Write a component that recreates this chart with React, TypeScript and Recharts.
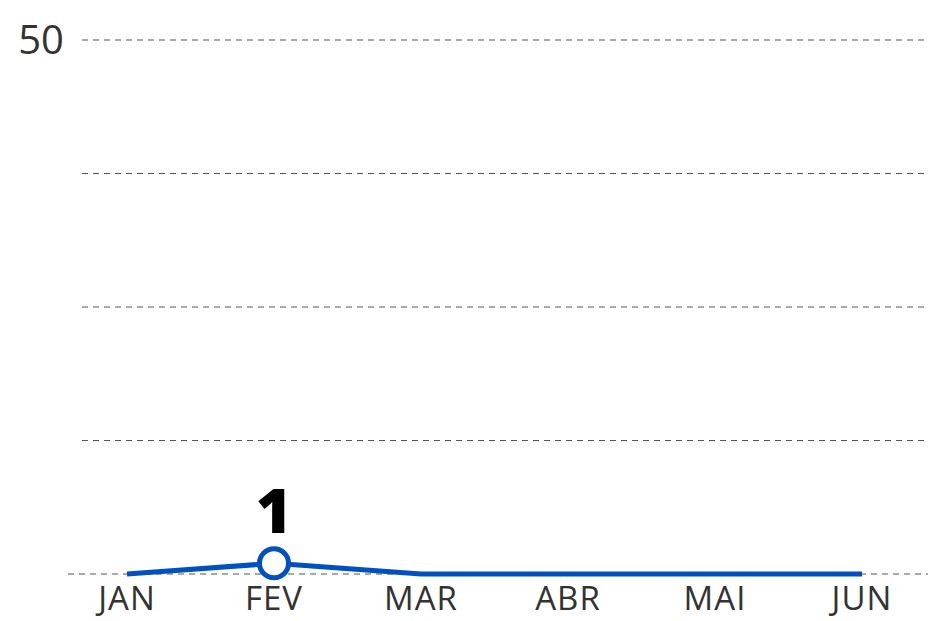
import { LineChart, Line, XAxis, YAxis, CartesianGrid, LabelList } from 'recharts'

const months = ['JAN', 'FEV', 'MAR', 'ABR', 'MAI', 'JUN']
const values = [0, 1, 0, 0, 0, 0]
const yTicks = [0, 12.5, 25, 37.5, 50]

const data = months.map((m, i) => ({ month: m, value: values[i] }))

const BLUE = '#0050c0'
const FONT = '"Open Sans", "DejaVu Sans", sans-serif'

const gridLine = (props: any) => {
  const { x1, x2, y1, y2, index } = props
  // bottom (zero) line runs a bit further left
  const isZero = index === 0 || Math.abs(y1 - 574) < 2
  return (
    <line
      key={`h-${index}`}
      x1={isZero ? x1 - 14 : x1}
      x2={x2}
      y1={y1}
      y2={y2}
      stroke="#555"
      strokeWidth={1}
      strokeDasharray="6 5"
    />
  )
}

const YTick = (props: any) => {
  const { x, y, payload } = props
  if (payload.value !== 50) return null
  return (
    <text x={x - 10} y={y} dy={14} textAnchor="end" fill="#333" fontSize={40} fontFamily={FONT}>
      {payload.value}
    </text>
  )
}

const XTick = (props: any) => {
  const { x, y, payload } = props
  return (
    <text x={x} y={y} dy={28} textAnchor="middle" fill="#333" fontSize={33} fontFamily={FONT} letterSpacing={1}>
      {payload.value}
    </text>
  )
}

const Dot = (props: any) => {
  const { cx, cy, payload, index } = props
  if (!payload.value) return <g key={`d-${index}`} />
  return <circle key={`d-${index}`} cx={cx} cy={cy} r={14.5} fill="#fff" stroke={BLUE} strokeWidth={5} />
}

const PeakLabel = (props: any) => {
  const { x, y, value } = props
  if (!value) return null
  return (
    <text x={x} y={y - 30} textAnchor="middle" fill="#000" fontSize={62} fontWeight={800} fontFamily={FONT}>
      {value}
    </text>
  )
}

export default function App() {
  return (
    <div style={{ position: 'absolute', left: 0, top: 0 }}>
      <LineChart width={928} height={621} data={data} margin={{ top: 40, right: 0, bottom: 0, left: 0 }}>
        <CartesianGrid vertical={false} horizontal={gridLine} />
        <XAxis
          dataKey="month"
          axisLine={false}
          tickLine={false}
          tick={<XTick />}
          height={47}
          interval={0}
          padding={{ left: 45, right: 66 }}
        />
        <YAxis
          domain={[0, 50]}
          ticks={yTicks}
          axisLine={false}
          tickLine={false}
          tick={<YTick />}
          width={82}
        />
        <Line
          type="linear"
          dataKey="value"
          stroke={BLUE}
          strokeWidth={5}
          dot={Dot}
          activeDot={false}
          isAnimationActive={false}
        >
          <LabelList dataKey="value" content={PeakLabel} />
        </Line>
      </LineChart>
    </div>
  )
}
